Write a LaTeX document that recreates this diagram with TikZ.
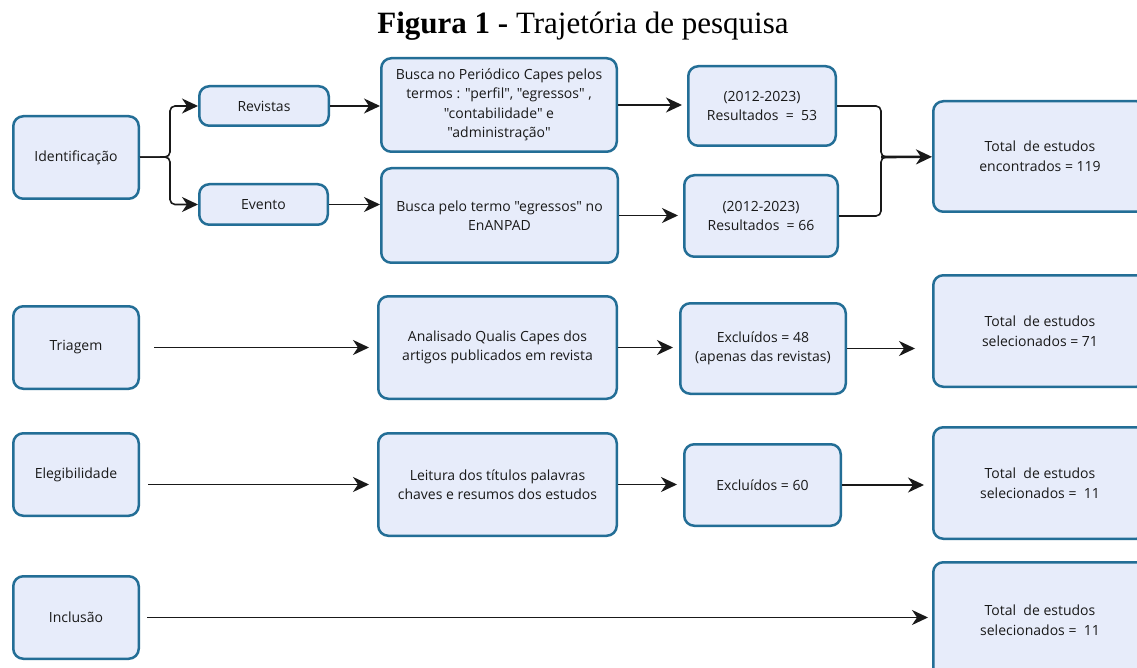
\documentclass[tikz,border=0pt]{standalone}
\usepackage{fontspec}
\setmainfont{Liberation Serif}
\newfontfamily\caixafont{Open Sans}
\usetikzlibrary{arrows.meta}

\definecolor{borda}{RGB}{35,110,150}
\definecolor{fundo}{RGB}{231,236,250}
\definecolor{traco}{RGB}{25,25,25}

\begin{document}
\begin{tikzpicture}[x=1pt, y=-1pt,
  caixa/.style={draw=borda, fill=fundo, line width=2.5pt, rounded corners=10pt, align=center,
    text=traco, font=\caixafont\fontsize{14}{19.5}\selectfont, inner sep=2pt},
  linha/.style={draw=traco, line width=1.6pt},
  seta/.style={linha, -{Stealth[length=16pt,width=15pt,inset=5pt]}}]

\useasboundingbox (0,0) rectangle (1137,668);
\fill[white] (0,0) rectangle (1137,668);
\clip (0,0) rectangle (1137,668);

\node[anchor=base, font=\fontsize{31}{31}\selectfont] (tit) at (583,34) {\textbf{Figura 1 -} Trajetória de pesquisa};

\node[caixa, minimum width=125.5, minimum height=82.5] (ide) at (76,157.5) {Identificação};
\node[caixa, minimum width=125.5, minimum height=82.5] (tri) at (76,347.5) {Triagem};
\node[caixa, minimum width=125.5, minimum height=82.5] (ele) at (76,474.5) {Elegibilidade};
\node[caixa, minimum width=125.5, minimum height=82.5] (inc) at (76,617.5) {Inclusão};

\node[caixa, minimum width=129.5, minimum height=39.5] (rev) at (264,106) {Revistas};
\node[caixa, minimum width=128.5, minimum height=40.5] (eve) at (263.5,204.5) {Evento};

\node[caixa, minimum width=235.5, minimum height=93.5] (bus1) at (499,105)
  {Busca no Periódico Capes pelos\\termos : "perfil", "egressos" ,\\"contabilidade" e\\"administração"};
\node[caixa, minimum width=236.5, minimum height=94.5] (bus2) at (499.5,215.5)
  {Busca pelo termo "egressos" no\\EnANPAD};
\node[caixa, minimum width=238.5, minimum height=102.5] (ana) at (497.5,347.5)
  {Analisado Qualis Capes dos\\artigos publicados em revista};
\node[caixa, minimum width=238.5, minimum height=102.5] (lei) at (497.5,484.5)
  {Leitura dos títulos palavras\\chaves e resumos dos estudos};

\node[caixa, minimum width=147.5, minimum height=79.5] (res1) at (762,106) {(2012-2023)\\Resultados\ \ =\ \ 53};
\node[caixa, minimum width=153.5, minimum height=81.5] (res2) at (761,216) {(2012-2023)\\Resultados\ \ = 66};
\node[caixa, minimum width=165.5, minimum height=90.5] (exc1) at (763,348.5) {Excluídos = 48\\(apenas das revistas)};
\node[caixa, minimum width=156.5, minimum height=81.5] (exc2) at (762.5,485) {Excluídos = 60};

\node[caixa, minimum width=213.5, minimum height=110.5] (tot1) at (1040,156.5) {Total\ \ de estudos\\encontrados = 119};
\node[caixa, minimum width=213.5, minimum height=111.5] (tot2) at (1040,331) {Total\ \ de estudos\\selecionados = 71};
\node[caixa, minimum width=213.5, minimum height=111.5] (tot3) at (1040,483) {Total\ \ de estudos\\selecionados =\ \ 11};
\node[caixa, minimum width=213.5, minimum height=115.5] (tot4) at (1040,620) {Total\ \ de estudos\\selecionados =\ \ 11};

\coordinate (chA) at (170,157);
\coordinate (chB) at (881,157);

\draw[seta, rounded corners=5pt] (ide) -- (chA) |- (rev);
\draw[seta, rounded corners=5pt] (ide) -- (chA) |- (eve);
\draw[seta] (rev) -- (rev -| bus1.west);
\draw[seta] (eve) -- (eve -| bus2.west);
\draw[seta, shorten >=5pt] (bus1) -- (bus1 -| res1.west);
\draw[seta, shorten >=5pt] (bus2) -- (bus2 -| res2.west);
\draw[linha, rounded corners=5pt] (res1) -| (chB) -- ++(4,0);
\draw[linha, rounded corners=5pt] (res2) -| (chB) -- ++(4,0);
\draw[seta, line width=2.6pt] (chB) -- (tot1);

\draw[seta, shorten <=14pt, shorten >=8pt] (tri) -- (ana);
\draw[seta, shorten >=6pt] (ana) -- (ana -| exc1.west);
\draw[seta, shorten >=17pt] (exc1) -- (exc1 -| tot2.west);

\draw[seta, shorten <=8pt, shorten >=8pt] (ele.east |- lei) -- (lei);
\draw[seta, shorten >=6pt] (lei) -- (lei -| exc2.west);
\draw[seta, shorten >=8pt] (exc2) -- (exc2 -| tot3.west);

\draw[seta, shorten <=7pt, shorten >=4pt] (inc) -- (inc -| tot4.west);
\end{tikzpicture}
\end{document}
